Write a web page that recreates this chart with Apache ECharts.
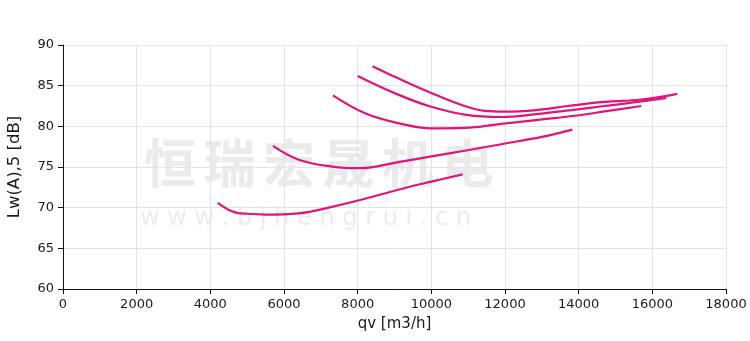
<!DOCTYPE html>
<html>
<head>
<meta charset="utf-8">
<script src="https://cdn.jsdelivr.net/npm/echarts@6/dist/echarts.min.js"></script>
<style>
  body { margin: 0; padding: 0; background: #fff; }
  #chart { width: 750px; height: 341px; }
</style>
</head>
<body>
<div id="chart"></div>
<script>
// fan noise curves, qv [m3/h] vs Lw(A),5 [dB]
var qv1 = [4200, 4650, 5000, 5500, 6400, 7300, 8200, 9100, 10000, 10850];
var lw1 = [70.6, 69.45, 69.25, 69.15, 69.3, 70.1, 71.1, 72.2, 73.2, 74.1];

var qv2 = [5700, 6400, 7300, 8050, 9100, 10000, 10900, 11900, 13000, 13830];
var lw2 = [77.6, 75.9, 75.05, 74.85, 75.6, 76.3, 77.0, 77.8, 78.7, 79.6];

var qv3 = [7330, 8200, 9100, 10000, 10900, 11900, 12900, 13900, 14800, 15700];
var lw3 = [83.8, 81.6, 80.4, 79.75, 79.8, 80.3, 80.8, 81.3, 81.9, 82.5];

var qv4 = [8000, 9100, 10000, 10950, 11900, 12850, 13800, 14700, 15600, 16380];
var lw4 = [86.2, 83.9, 82.4, 81.4, 81.15, 81.5, 82.0, 82.5, 83.0, 83.5];

var qv5 = [8400, 9100, 10000, 10900, 11450, 12000, 12850, 13700, 14700, 15700, 16680];
var lw5 = [87.4, 85.9, 84.1, 82.5, 81.9, 81.8, 82.0, 82.5, 83.0, 83.3, 84.0];

var curves = [[qv1, lw1], [qv2, lw2], [qv3, lw3], [qv4, lw4], [qv5, lw5]];

var lineColor = "#e2137a";
var wmTitle = "恒瑞宏晟机电";
var wmSite = "w w w . b j h e n g r u i . c n";

function pairs(xs, ys) {
  return xs.map(function (x, i) { return [x, ys[i]]; });
}

// watermark, one glyph per element so the spacing can be set
var graphics = [];
wmTitle.split("").forEach(function (ch, i) {
  graphics.push({
    type: "text", left: 144 + i * 59.5, top: 137, z: -1,
    style: { text: ch, fontSize: 52, fontWeight: "bold", fill: "#ebebeb",
             fontFamily: "Noto Sans CJK SC" }
  });
});
graphics.push({
  type: "text", left: 140, top: 207, z: -1,
  style: { text: wmSite, fontSize: 24, fill: "#ececec", fontFamily: "DejaVu Sans" }
});

var axisText = { fontFamily: "DejaVu Sans", color: "#1a1a1a" };

var chart = echarts.init(document.getElementById("chart"));
chart.setOption({
  animation: false,
  textStyle: { fontFamily: "DejaVu Sans" },
  graphic: graphics,
  grid: { left: 63, right: 24, top: 45, bottom: 52, outerBoundsMode: "none" },
  xAxis: {
    type: "value", min: 0, max: 18000, interval: 2000,
    name: "qv [m3/h]", nameLocation: "middle", nameGap: 28,
    nameTextStyle: Object.assign({ fontSize: 15 }, axisText),
    axisLine: { show: true, onZero: false, lineStyle: { color: "#111", width: 1 } },
    axisTick: { show: true, length: 5, lineStyle: { color: "#111" } },
    axisLabel: Object.assign({ fontSize: 13, margin: 9, formatter: function (v) { return String(v); } }, axisText),
    splitLine: { show: true, lineStyle: { color: "#dde4ee", width: 1 } }
  },
  yAxis: {
    type: "value", min: 60, max: 90, interval: 5,
    name: "Lw(A),5 [dB]", nameLocation: "middle", nameGap: 40,
    nameTextStyle: Object.assign({ fontSize: 16.5 }, axisText),
    axisLine: { show: true, onZero: false, lineStyle: { color: "#111", width: 1 } },
    axisTick: { show: true, length: 5, lineStyle: { color: "#111" } },
    axisLabel: Object.assign({ fontSize: 13, margin: 9 }, axisText),
    splitLine: { show: true, lineStyle: { color: "#dde4ee", width: 1 } }
  },
  series: curves.map(function (c) {
    return {
      type: "line", data: pairs(c[0], c[1]), smooth: 0.4,
      showSymbol: false, lineStyle: { color: lineColor, width: 2.2 }
    };
  })
});
</script>
</body>
</html>
